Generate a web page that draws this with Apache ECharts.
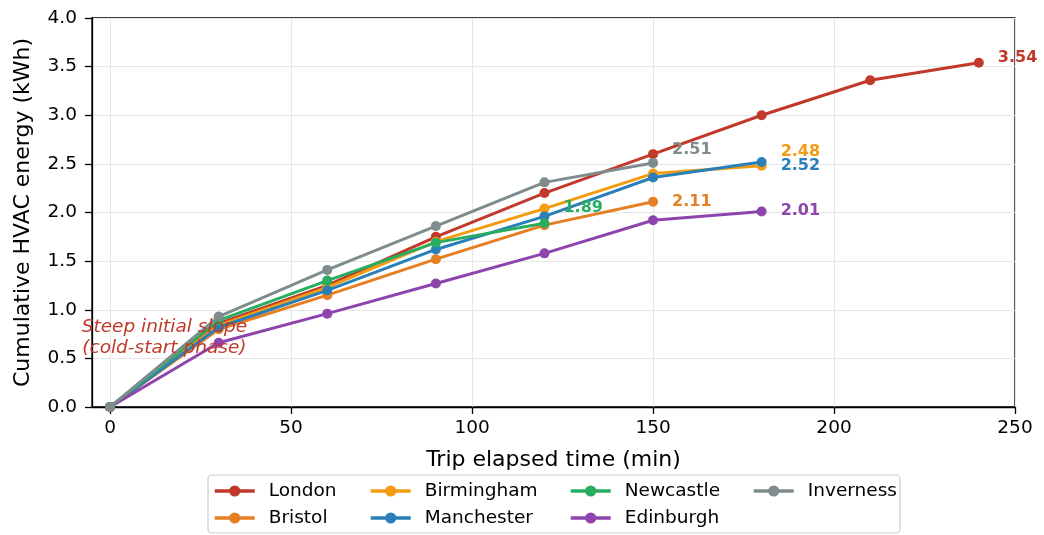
<!DOCTYPE html>
<html>
<head>
<meta charset="utf-8">
<script src="https://cdn.jsdelivr.net/npm/echarts@6/dist/echarts.min.js"></script>
<style>
html,body{margin:0;padding:0;background:#fff;}
#chart{width:1044px;height:535px;}
</style>
</head>
<body>
<div id="chart"></div>
<script>
// ---- data ----
const times = [0, 30, 60, 90, 120, 150, 180, 210, 240];
const cities = ['London', 'Bristol', 'Birmingham', 'Manchester', 'Newcastle', 'Edinburgh', 'Inverness'];
const london     = [0, 0.86, 1.25, 1.75, 2.20, 2.60, 3.00, 3.36, 3.54];
const bristol    = [0, 0.80, 1.15, 1.52, 1.87, 2.11];
const birmingham = [0, 0.84, 1.23, 1.70, 2.04, 2.40, 2.48];
const manchester = [0, 0.82, 1.20, 1.62, 1.96, 2.36, 2.52];
const newcastle  = [0, 0.89, 1.30, 1.69, 1.89];
const edinburgh  = [0, 0.66, 0.96, 1.27, 1.58, 1.92, 2.01];
const inverness  = [0, 0.93, 1.41, 1.86, 2.31, 2.51];
const seriesValues = [london, bristol, birmingham, manchester, newcastle, edinburgh, inverness];
const xTicks = [0, 50, 100, 150, 200, 250];
const annotationLines = ['Steep initial slope', '(cold-start phase)'];
const annotationAt = [15, 0.715];

// ---- styles ----
const colors = ['#c0392b', '#e67e22', '#f39c12', '#2980b9', '#27ae60', '#8e44ad', '#7f8c8d'];
const endLabelDy = [-5, 0, -14, 4, -15, -1, -13];
const FONT = 'DejaVu Sans';

const series = cities.map((name, i) => {
  const vals = seriesValues[i];
  const data = vals.map((v, j) => {
    const item = { value: [times[j], v] };
    if (j === vals.length - 1) {
      item.label = {
        show: true,
        position: 'right',
        distance: 14,
        offset: [0, endLabelDy[i]],
        formatter: (p) => p.value[1].toFixed(2),
        color: colors[i],
        fontFamily: FONT,
        fontWeight: 'bold',
        fontSize: 16
      };
    }
    return item;
  });
  return {
    name: name,
    type: 'line',
    data: data,
    symbol: 'circle',
    symbolSize: 10,
    showSymbol: true,
    color: colors[i],
    lineStyle: { width: 3, color: colors[i] },
    itemStyle: { color: colors[i] },
    emphasis: { disabled: true },
    animation: false,
    z: 3 + i * 0.01
  };
});

const legendCols = [
  { names: ['London', 'Bristol'], left: 213 },
  { names: ['Birmingham', 'Manchester'], left: 369 },
  { names: ['Newcastle', 'Edinburgh'], left: 569 },
  { names: ['Inverness'], left: 752 }
];

const boxRect = {
  type: 'rect',
  shape: { x: 208, y: 475, width: 692, height: 58, r: 4 },
  style: { fill: '#fff', stroke: '#cccccc', lineWidth: 1.2 },
  z: -1
};

const chart = echarts.init(document.getElementById('chart'), null, { renderer: 'canvas' });
const option = {
  animation: false,
  backgroundColor: '#fff',
  textStyle: { fontFamily: FONT },
  grid: {
    left: 92, right: 29, top: 18, bottom: 128,
    show: true, borderColor: '#000', borderWidth: 1.3, backgroundColor: 'transparent'
  },
  xAxis: {
    type: 'value',
    min: -5, max: 250,
    name: 'Trip elapsed time (min)',
    nameLocation: 'middle',
    nameGap: 42,
    nameTextStyle: { fontSize: 22, color: '#000', fontFamily: FONT },
    axisLine: { show: true, onZero: false, lineStyle: { color: '#000', width: 1.3 } },
    axisTick: { show: true, length: 7, lineStyle: { color: '#000', width: 1.3 }, customValues: xTicks },
    axisLabel: { fontSize: 18.5, color: '#000', margin: 12, fontFamily: FONT, customValues: xTicks },
    splitLine: { show: true, lineStyle: { color: '#e6e6e6', width: 1 } }
  },
  yAxis: {
    type: 'value',
    min: 0, max: 4, interval: 0.5,
    name: 'Cumulative HVAC energy (kWh)',
    nameLocation: 'middle',
    nameGap: 58,
    nameTextStyle: { fontSize: 22, color: '#000', fontFamily: FONT },
    axisLine: { show: true, onZero: false, lineStyle: { color: '#000', width: 1.3 } },
    axisTick: { show: true, length: 7, lineStyle: { color: '#000', width: 1.3 } },
    axisLabel: { fontSize: 18.5, color: '#000', margin: 15, fontFamily: FONT, formatter: (v) => v.toFixed(1) },
    splitLine: { show: true, lineStyle: { color: '#e6e6e6', width: 1 } }
  },
  legend: legendCols.map(c => ({
    data: c.names,
    orient: 'vertical',
    left: c.left,
    top: 481,
    padding: 0,
    itemWidth: 40,
    itemHeight: 14,
    itemGap: 7,
    selectedMode: false,
    lineStyle: { width: 3.5 },
    textStyle: { fontSize: 18.5, color: '#000', fontFamily: FONT, lineHeight: 20, padding: [0, 0, 0, 9] }
  })),
  graphic: [boxRect],
  series: series
};
chart.setOption(option);

// annotation placed through the axes' scales
const p = chart.convertToPixel({ gridIndex: 0 }, annotationAt);
chart.setOption({
  graphic: [
    boxRect,
    {
      type: 'text',
      x: p[0], y: p[1],
      z: 100,
      style: {
        text: annotationLines.join('\n'),
        fill: '#c0392b',
        font: 'italic 18.5px "DejaVu Sans"',
        lineHeight: 21,
        align: 'center',
        verticalAlign: 'middle'
      }
    }
  ]
});
</script>
</body>
</html>
